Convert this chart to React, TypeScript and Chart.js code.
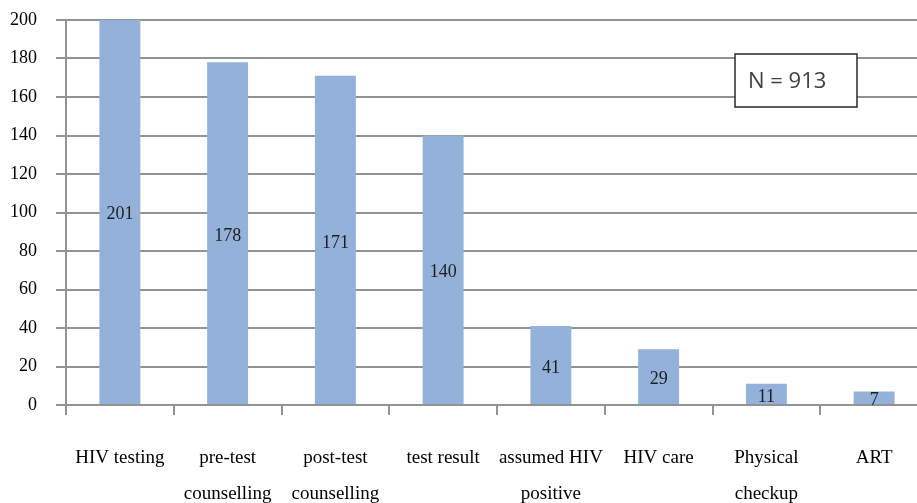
import React, { useEffect, useRef } from "react";
import { Chart, registerables } from "chart.js";

Chart.register(...registerables);

const categories: string[][] = [
  ["HIV testing"],
  ["pre-test", "counselling"],
  ["post-test", "counselling"],
  ["test result"],
  ["assumed HIV", "positive"],
  ["HIV care"],
  ["Physical", "checkup"],
  ["ART"],
];
const values: number[] = [201, 178, 171, 140, 41, 29, 11, 7];
const yMin = 0;
const yMax = 200;
const yStep = 20;
const annotationText = "N = 913";

const GRID = "#939393";
const SERIF = "'Liberation Serif', 'Times New Roman', serif";

const valueLabels = {
  id: "valueLabels",
  afterDatasetsDraw(chart: any) {
    const ctx = chart.ctx;
    const meta = chart.getDatasetMeta(0);
    ctx.save();
    ctx.font = `18px ${SERIF}`;
    ctx.fillStyle = "#1e1e1e";
    ctx.textAlign = "center";
    ctx.textBaseline = "middle";
    meta.data.forEach((bar: any, i: number) => {
      const mid = (bar.y + bar.base) / 2 + 3;
      ctx.fillText(String(values[i]), bar.x, mid);
    });
    ctx.restore();
  },
};

const noteBox = {
  id: "noteBox",
  afterDraw(chart: any) {
    const ctx = chart.ctx;
    const area = chart.chartArea;
    const x = area.left + 669;
    const y = area.top + 34;
    const w = 122;
    const h = 53;
    ctx.save();
    ctx.fillStyle = "#ffffff";
    ctx.fillRect(x, y, w, h);
    ctx.strokeStyle = "#2a2a2a";
    ctx.lineWidth = 1.5;
    ctx.strokeRect(x, y, w, h);
    ctx.font = `22px 'Open Sans', 'Liberation Sans', sans-serif`;
    ctx.fillStyle = "#404040";
    ctx.textAlign = "left";
    ctx.textBaseline = "middle";
    ctx.fillText(annotationText, x + 13, y + h / 2 + 1);
    ctx.restore();
  },
};

export default function App() {
  const ref = useRef<HTMLCanvasElement | null>(null);
  useEffect(() => {
    if (!ref.current) return;
    const chart = new Chart(ref.current, {
      type: "bar",
      data: {
        labels: categories,
        datasets: [
          {
            data: values,
            backgroundColor: "#93b1d9",
            borderWidth: 0,
            barPercentage: 0.38,
            categoryPercentage: 1,
          },
        ],
      },
      options: {
        animation: false,
        responsive: false,
        maintainAspectRatio: false,
        devicePixelRatio: 1,
        layout: { padding: { top: 20, left: 0, right: 12, bottom: 0 } },
        plugins: {
          legend: { display: false },
          tooltip: { enabled: false },
          title: { display: false },
        },
        scales: {
          x: {
            offset: true,
            grid: {
              offset: true,
              drawOnChartArea: false,
              drawTicks: true,
              tickLength: 10,
              color: GRID,
              lineWidth: 2,
            },
            border: { display: true, color: GRID, width: 2 },
            ticks: {
              color: "#000",
              padding: 25,
              maxRotation: 0,
              autoSkip: false,
              font: { family: SERIF, size: 19, lineHeight: "36px" as any },
            },
            afterFit: (s: any) => {
              s.height = 98;
              s.paddingLeft = 0;
              s.paddingRight = 0;
            },
          },
          y: {
            min: yMin,
            max: yMax,
            grid: {
              color: GRID,
              lineWidth: 2,
              drawTicks: true,
              tickLength: 10,
            },
            border: { display: true, color: GRID, width: 2 },
            ticks: {
              stepSize: yStep,
              color: "#000",
              padding: 19,
              font: { family: SERIF, size: 18 },
            },
            afterFit: (s: any) => {
              s.width = 66;
              s.paddingTop = 0;
              s.paddingBottom = 0;
            },
          },
        },
      },
      plugins: [valueLabels, noteBox],
    });
    return () => chart.destroy();
  }, []);

  return (
    <div
      style={{
        position: "fixed",
        left: 0,
        top: 0,
        width: 917,
        height: 503,
        overflow: "hidden",
        background: "#fff",
      }}
    >
      <canvas ref={ref} width={940} height={503} style={{ display: "block", width: 940, height: 503 }} />
    </div>
  );
}
